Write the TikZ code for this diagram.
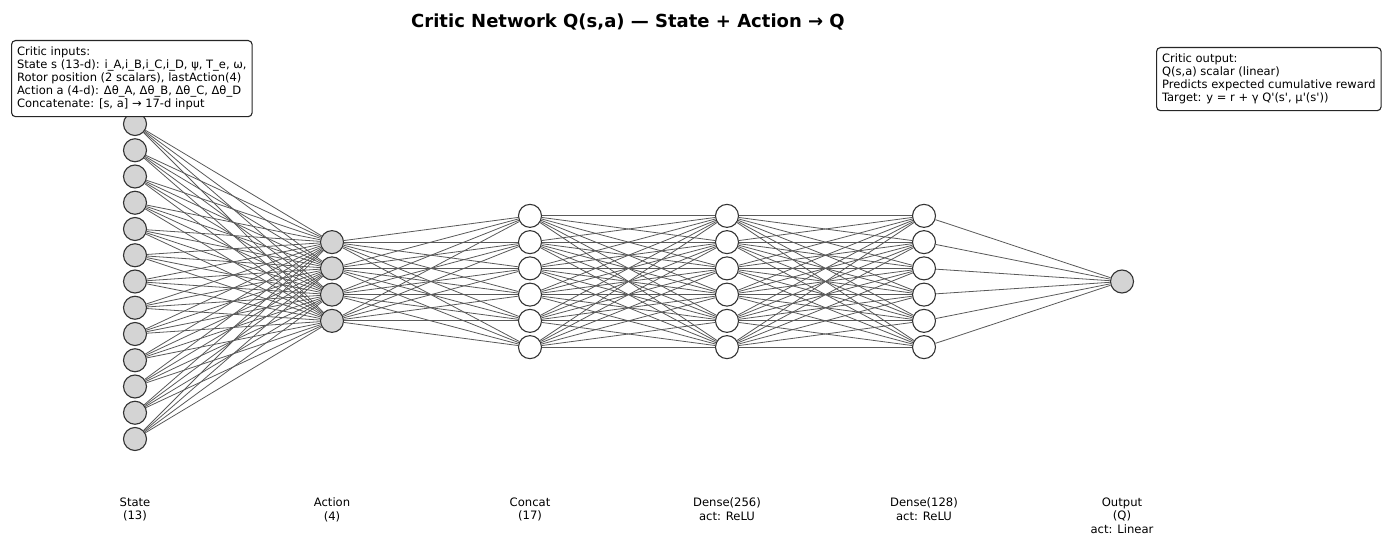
\documentclass[tikz,border=0pt]{standalone}
\usepackage{fontspec}
\setmainfont{DejaVu Sans}[Ligatures=TeXOff]

\tikzset{
  neuron/.style={circle, draw=black!80, line width=1.1pt, minimum size=23pt, inner sep=0pt},
  filled/.style={neuron, fill=black!17},
  hollow/.style={neuron, fill=white},
  wire/.style={draw=black!65, line width=0.8pt},
  layerlabel/.style={font=\fontsize{11.6}{13.5}\selectfont, align=center, anchor=north, inner sep=0pt},
  infobox/.style={draw=black!85, line width=1.1pt, rounded corners=4pt, fill=white,
    align=left, anchor=north west, inner xsep=5.5pt, inner ysep=6.5pt,
    font=\fontsize{11.5}{13}\selectfont}
}

\begin{document}
\begin{tikzpicture}[x=1pt,y=-1pt]
  \useasboundingbox (0,0) rectangle (1391,537);

  % layers
  \foreach \i in {1,...,13}
    \node[filled] (s\i) at (135,{281.5+(\i-7)*26.25}) {};
  \foreach \i in {1,...,4}
    \node[filled] (a\i) at (332,{281.5+(\i-2.5)*26.25}) {};
  \foreach \i in {1,...,6} {
    \node[hollow] (c\i) at (530,{281.5+(\i-3.5)*26.25}) {};
    \node[hollow] (h\i) at (727,{281.5+(\i-3.5)*26.25}) {};
    \node[hollow] (g\i) at (924,{281.5+(\i-3.5)*26.25}) {};
  }
  \node[filled] (q) at (1122,281.5) {};

  % connections
  \foreach \i in {1,...,13}
    \foreach \j in {1,...,4}
      \draw[wire] (s\i) -- (a\j);
  \foreach \i in {1,...,4}
    \foreach \j in {1,...,6}
      \draw[wire] (a\i) -- (c\j);
  \foreach \i in {1,...,6} {
    \foreach \j in {1,...,6} {
      \draw[wire] (c\i) -- (h\j);
      \draw[wire] (h\i) -- (g\j);
    }
    \draw[wire] (g\i) -- (q);
  }

  % labels
  \node[layerlabel] (lstate) at (135,497.5) {State\\(13)};
  \node[layerlabel] (laction) at (332,497.5) {Action\\(4)};
  \node[layerlabel] (lconcat) at (530,497.5) {Concat\\(17)};
  \node[layerlabel] (ldense1) at (727,497.5) {Dense(256)\\act: ReLU};
  \node[layerlabel] (ldense2) at (924,497.5) {Dense(128)\\act: ReLU};
  \node[layerlabel] (lout) at (1122,497.5) {Output\\(Q)\\act: Linear};

  \node[font=\bfseries\fontsize{18}{20}\selectfont] (title) at (628,22)
    {Critic Network Q(s,a) — State + Action → Q};

  % info boxes
  \node[infobox] (inbox) at (11,40) {Critic inputs:\\
    State s (13-d): i\_A,i\_B,i\_C,i\_D, ψ, T\_e, ω,\\
    Rotor position (2 scalars), lastAction(4)\\
    Action a (4-d): Δθ\_A, Δθ\_B, Δθ\_C, Δθ\_D\\
    Concatenate: [s, a] → 17-d input};
  \node[infobox] (outbox) at (1156,47) {Critic output:\\
    Q(s,a) scalar (linear)\\
    Predicts expected cumulative reward\\
    Target: y = r + γ Q'(s', μ'(s'))};
\end{tikzpicture}
\end{document}
